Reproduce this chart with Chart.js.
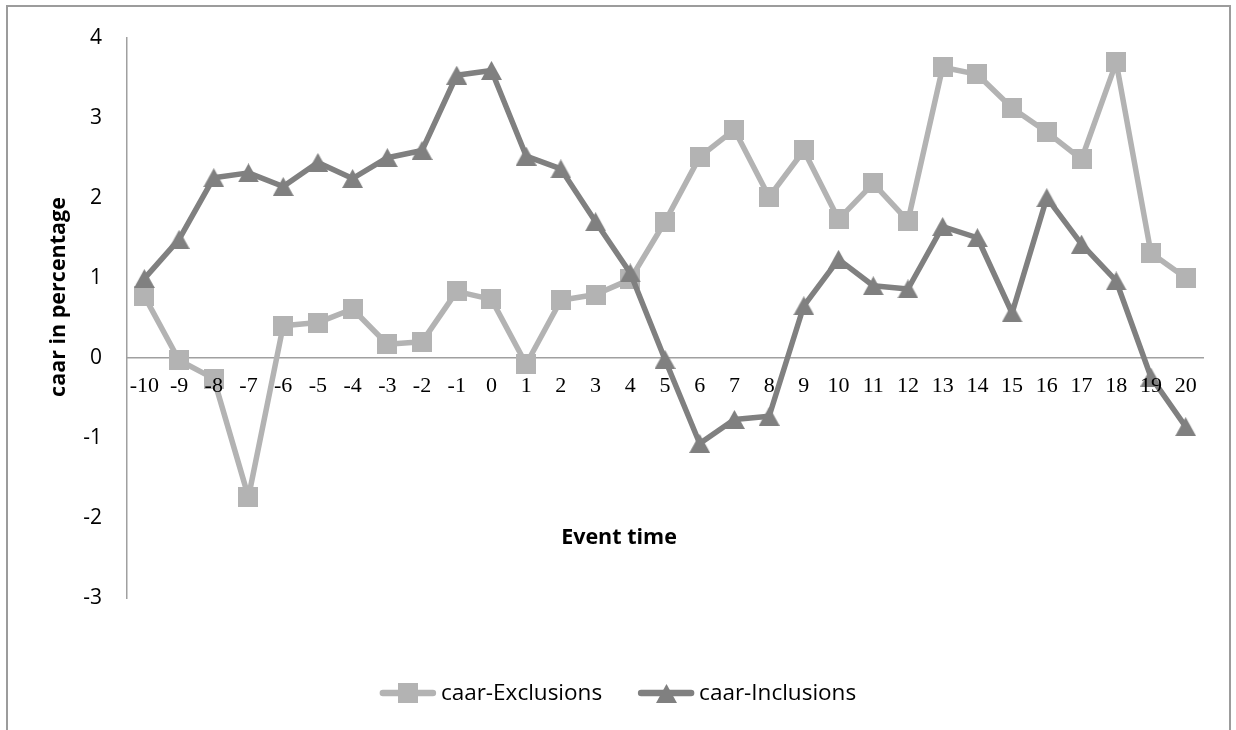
<!DOCTYPE html>
<html>
<head>
<meta charset="utf-8">
<title>caar around the event date</title>
<script src="https://cdn.jsdelivr.net/npm/chart.js@4/dist/chart.umd.min.js"></script>
<style>
  html, body { margin: 0; padding: 0; background: #ffffff; }
  canvas { display: block; }
</style>
</head>
<body>
<canvas id="chart" width="1236" height="730"></canvas>
<script>
// Event days relative to the announcement (category labels of the x axis)
const eventTimes = ['-10', '-9', '-8', '-7', '-6', '-5', '-4', '-3', '-2', '-1', '0',
                    '1', '2', '3', '4', '5', '6', '7', '8', '9', '10',
                    '11', '12', '13', '14', '15', '16', '17', '18', '19', '20'];

// Cumulative average abnormal returns, in percent
const caarExclusions = [0.77, -0.03, -0.26, -1.74, 0.40, 0.44, 0.61, 0.17, 0.20, 0.83, 0.73,
                        -0.08, 0.72, 0.79, 0.98, 1.70, 2.51, 2.85, 2.01, 2.59, 1.73,
                        2.18, 1.71, 3.63, 3.54, 3.12, 2.82, 2.48, 3.69, 1.31, 1.00];
const caarInclusions = [0.99, 1.48, 2.25, 2.31, 2.14, 2.44, 2.24, 2.50, 2.59, 3.53, 3.59,
                        2.52, 2.36, 1.70, 1.06, -0.02, -1.07, -0.77, -0.73, 0.65, 1.23,
                        0.90, 0.86, 1.64, 1.50, 0.56, 2.00, 1.42, 0.96, -0.24, -0.86];

const seriesNames = ['caar-Exclusions', 'caar-Inclusions'];
const yAxisRange = [-3, 4];
const yAxisTitle = 'caar in percentage';
const xAxisTitle = 'Event time';

const LIGHT_GREY = '#b3b3b3';
const DARK_GREY = '#808080';
const AXIS_GREY = '#a0a0a0';
const TEXT_FONT = '"Open Sans", "Noto Sans", sans-serif';

// Marker bitmaps, centred on their bounding box
function squareMarker(color, size) {
  const c = document.createElement('canvas');
  c.width = size; c.height = size;
  const g = c.getContext('2d');
  g.fillStyle = color;
  g.fillRect(0, 0, size, size);
  return c;
}
function triangleMarker(color, w, h) {
  const c = document.createElement('canvas');
  c.width = w; c.height = h;
  const g = c.getContext('2d');
  g.fillStyle = color;
  g.beginPath();
  g.moveTo(w / 2, 0);
  g.lineTo(w, h);
  g.lineTo(0, h);
  g.closePath();
  g.fill();
  return c;
}

// Frame around the whole figure
const framePlugin = {
  id: 'frame',
  beforeDraw(chart) {
    const ctx = chart.ctx;
    ctx.save();
    ctx.fillStyle = '#ffffff';
    ctx.fillRect(0, 0, chart.width, chart.height);
    ctx.strokeStyle = '#9c9c9c';
    ctx.lineWidth = 2;
    ctx.strokeRect(7, 6, chart.width - 13, chart.height + 20);
    ctx.restore();
  }
};

// Axis titles
const titlesPlugin = {
  id: 'axisTitles',
  afterDraw(chart) {
    const ctx = chart.ctx;
    ctx.save();
    ctx.fillStyle = '#000000';
    ctx.font = 'bold 21.5px ' + TEXT_FONT;
    ctx.textAlign = 'center';
    ctx.textBaseline = 'alphabetic';
    ctx.fillText(xAxisTitle, chart.width / 2 + 1, 544);
    ctx.translate(65, 297);
    ctx.rotate(-Math.PI / 2);
    ctx.fillText(yAxisTitle, 0, 0);
    ctx.restore();
  }
};

// Legend showing each series as a line sample with its marker
const lineLegendPlugin = {
  id: 'lineLegend',
  afterDraw(chart) {
    const ctx = chart.ctx;
    const lineLen = 56, textGap = 5, itemGap = 36, y = 693;
    ctx.save();
    ctx.font = '22.5px ' + TEXT_FONT;
    const items = chart.data.datasets.map(ds => ({ ds, w: ctx.measureText(ds.label).width }));
    const total = items.reduce((s, it) => s + lineLen + textGap + it.w, 0) + itemGap * (items.length - 1);
    let x = chart.width / 2 - total / 2;
    items.forEach(({ ds, w }) => {
      ctx.strokeStyle = ds.borderColor;
      ctx.lineWidth = ds.borderWidth + 1;
      ctx.lineCap = 'round';
      ctx.beginPath();
      ctx.moveTo(x + 3, y);
      ctx.lineTo(x + lineLen - 3, y);
      ctx.stroke();
      const img = ds.pointStyle;
      ctx.drawImage(img, Math.round(x + lineLen / 2 - img.width / 2), Math.round(y - img.height / 2));
      ctx.fillStyle = '#000000';
      ctx.textAlign = 'left';
      ctx.textBaseline = 'middle';
      ctx.fillText(ds.label, x + lineLen + textGap, y + 1);
      x += lineLen + textGap + w + itemGap;
    });
    ctx.restore();
  }
};

new Chart(document.getElementById('chart'), {
  type: 'line',
  data: {
    labels: eventTimes,
    datasets: [
      {
        label: seriesNames[0],
        data: caarExclusions,
        borderColor: LIGHT_GREY,
        backgroundColor: LIGHT_GREY,
        borderWidth: 5.5,
        borderJoinStyle: 'round',
        borderCapStyle: 'round',
        pointStyle: squareMarker(LIGHT_GREY, 20),
        pointRadius: 10,
        tension: 0,
        clip: false,
        order: 2
      },
      {
        label: seriesNames[1],
        data: caarInclusions,
        borderColor: DARK_GREY,
        backgroundColor: DARK_GREY,
        borderWidth: 5.5,
        borderJoinStyle: 'round',
        borderCapStyle: 'round',
        pointStyle: triangleMarker(DARK_GREY, 21, 19),
        pointRadius: 10,
        tension: 0,
        clip: false,
        order: 1
      }
    ]
  },
  options: {
    responsive: false,
    devicePixelRatio: 1,
    animation: false,
    layout: { padding: { top: 36, right: 33, bottom: 132, left: 0 } },
    plugins: {
      legend: { display: false },
      tooltip: { enabled: false },
      title: { display: false }
    },
    scales: {
      x: {
        type: 'category',
        offset: true,
        position: { y: 0 },
        grid: { display: false, drawTicks: false },
        border: { display: true, color: AXIS_GREY, width: 1.5 },
        ticks: {
          z: 1,
          color: '#000000',
          padding: 15,
          autoSkip: false,
          maxRotation: 0,
          font: { family: '"Liberation Serif", "Times New Roman", serif', size: 22 }
        }
      },
      y: {
        min: yAxisRange[0],
        max: yAxisRange[1],
        grid: { display: false, drawTicks: false },
        border: { display: true, color: AXIS_GREY, width: 1.5 },
        ticks: {
          stepSize: 1,
          color: '#000000',
          padding: 25,
          font: { family: TEXT_FONT, size: 21 }
        },
        afterFit(scale) { scale.width = 127; }
      }
    }
  },
  plugins: [framePlugin, titlesPlugin, lineLegendPlugin]
});
</script>
</body>
</html>
